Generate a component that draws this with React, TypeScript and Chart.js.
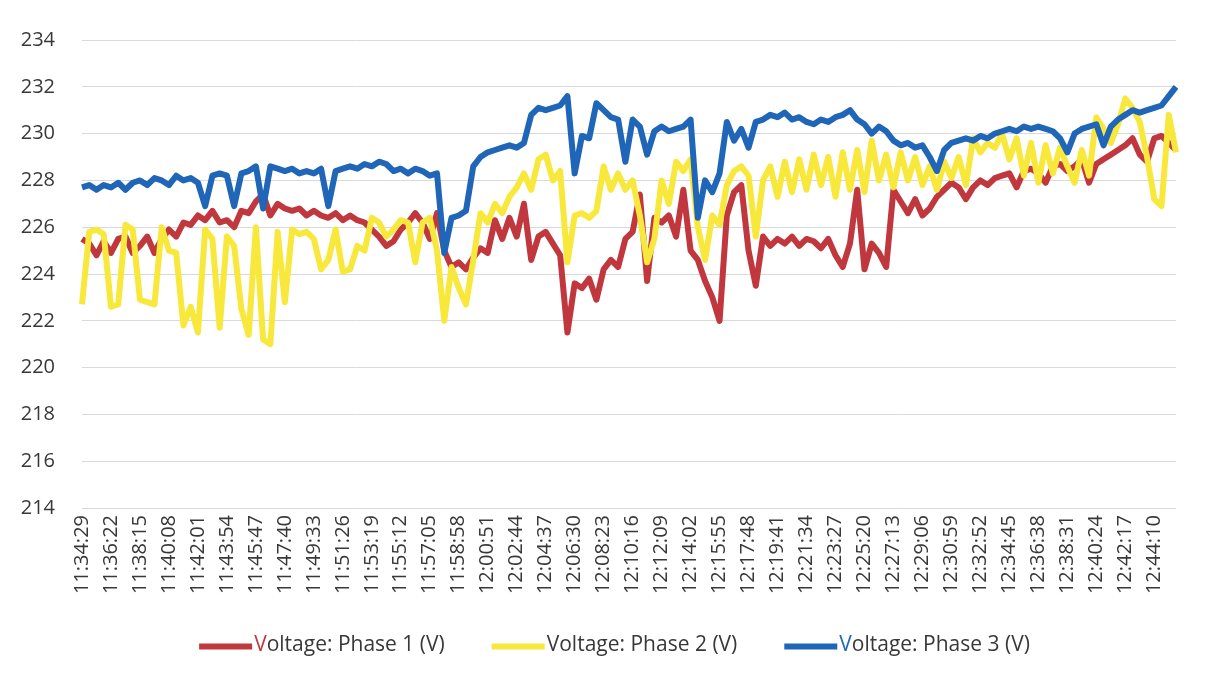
import React, { useEffect, useRef } from 'react';
import { Chart, registerables } from 'chart.js';

Chart.register(...registerables);

// Category tick labels (one every 4 samples)
const TICK_LABELS = [
  '11:34:29', '11:36:22', '11:38:15', '11:40:08', '11:42:01', '11:43:54', '11:45:47', '11:47:40',
  '11:49:33', '11:51:26', '11:53:19', '11:55:12', '11:57:05', '11:58:58', '12:00:51', '12:02:44',
  '12:04:37', '12:06:30', '12:08:23', '12:10:16', '12:12:09', '12:14:02', '12:15:55', '12:17:48',
  '12:19:41', '12:21:34', '12:23:27', '12:25:20', '12:27:13', '12:29:06', '12:30:59', '12:32:52',
  '12:34:45', '12:36:38', '12:38:31', '12:40:24', '12:42:17', '12:44:10',
];
const POINTS_PER_TICK = 4;

const SERIES_NAMES = ['Voltage: Phase 1 (V)', 'Voltage: Phase 2 (V)', 'Voltage: Phase 3 (V)'];
const SERIES_COLORS = ['#c0383d', '#f8e83c', '#1f66b8'];

const PHASE1 = [
  225.5, 225.3, 224.8, 225.4, 224.9, 225.5, 225.6, 224.9,
  225.2, 225.6, 224.9, 225.5, 225.9, 225.6, 226.2, 226.1,
  226.5, 226.3, 226.7, 226.2, 226.3, 226.0, 226.7, 226.6,
  227.1, 227.4, 226.5, 227.0, 226.8, 226.7, 226.8, 226.5,
  226.7, 226.5, 226.4, 226.6, 226.3, 226.5, 226.3, 226.2,
  225.9, 225.6, 225.2, 225.4, 225.9, 226.2, 226.6, 226.2,
  225.5, 226.6, 225.0, 224.3, 224.5, 224.2, 224.7, 225.1,
  224.9, 226.3, 225.5, 226.4, 225.6, 227.0, 224.6, 225.6,
  225.8, 225.3, 224.8, 221.5, 223.6, 223.4, 223.8, 222.9,
  224.2, 224.6, 224.3, 225.5, 225.8, 227.4, 223.7, 226.4,
  226.2, 226.5, 225.6, 227.6, 225.0, 224.6, 223.7, 223.0,
  222.0, 226.5, 227.5, 227.8, 225.0, 223.5, 225.6, 225.2,
  225.5, 225.3, 225.6, 225.2, 225.5, 225.4, 225.1, 225.5,
  224.8, 224.3, 225.3, 227.6, 224.2, 225.3, 224.9, 224.3,
  227.6, 227.1, 226.6, 227.2, 226.5, 226.8, 227.3, 227.6,
  227.9, 227.7, 227.2, 227.7, 228.0, 227.8, 228.1, 228.2,
  228.3, 227.7, 228.4, 228.5, 228.3, 227.9, 228.6, 228.7,
  228.4, 228.6, 228.9, 227.9, 228.7, 228.9, 229.1, 229.3,
  229.5, 229.8, 229.1, 228.8, 229.8, 229.9, 229.6, 229.3,
];

const PHASE2 = [
  222.7, 225.8, 225.9, 225.7, 222.6, 222.7, 226.1, 225.9,
  222.9, 222.8, 222.7, 226.0, 225.0, 224.9, 221.8, 222.6,
  221.5, 225.9, 225.5, 221.7, 225.6, 225.2, 222.5, 221.4,
  226.0, 221.2, 221.0, 225.8, 222.8, 225.9, 225.7, 225.8,
  225.5, 224.2, 224.6, 225.9, 224.1, 224.2, 225.2, 225.0,
  226.4, 226.2, 225.6, 225.9, 226.3, 226.2, 224.5, 226.2,
  226.4, 225.0, 222.0, 224.3, 223.4, 222.7, 224.6, 226.6,
  226.2, 227.0, 226.6, 227.3, 227.7, 228.3, 227.6, 228.9,
  229.1, 228.0, 228.4, 224.5, 226.5, 226.6, 226.4, 226.7,
  228.6, 227.6, 228.3, 227.6, 228.0, 226.5, 224.5, 225.5,
  228.0, 227.0, 228.8, 228.4, 228.9, 226.0, 224.6, 226.5,
  226.1, 227.8, 228.4, 228.6, 228.2, 225.6, 228.0, 228.6,
  227.3, 228.8, 227.5, 228.9, 227.6, 229.1, 227.8, 229.0,
  227.3, 229.2, 227.6, 229.3, 227.5, 229.7, 228.0, 229.1,
  227.7, 229.2, 228.0, 229.0, 227.8, 228.6, 227.6, 228.8,
  228.1, 229.0, 227.8, 229.8, 229.2, 229.6, 229.4, 230.0,
  228.9, 229.8, 228.2, 229.6, 227.9, 229.5, 228.3, 229.4,
  228.6, 227.9, 229.3, 228.2, 230.7, 230.2, 229.6, 230.4,
  231.5, 231.1, 230.5, 229.0, 227.2, 226.9, 230.8, 229.2,
];

const PHASE3 = [
  227.7, 227.8, 227.6, 227.8, 227.7, 227.9, 227.6, 227.9,
  228.0, 227.8, 228.1, 228.0, 227.8, 228.2, 228.0, 228.1,
  227.9, 226.9, 228.2, 228.3, 228.2, 226.9, 228.3, 228.4,
  228.6, 226.8, 228.6, 228.5, 228.4, 228.5, 228.3, 228.4,
  228.3, 228.5, 226.9, 228.4, 228.5, 228.6, 228.5, 228.7,
  228.6, 228.8, 228.7, 228.4, 228.5, 228.3, 228.5, 228.4,
  228.2, 228.3, 224.9, 226.4, 226.5, 226.7, 228.6, 229.0,
  229.2, 229.3, 229.4, 229.5, 229.4, 229.6, 230.8, 231.1,
  231.0, 231.1, 231.2, 231.6, 228.3, 229.9, 229.8, 231.3,
  231.0, 230.7, 230.6, 228.8, 230.6, 230.3, 229.1, 230.1,
  230.3, 230.1, 230.2, 230.3, 230.6, 226.4, 228.0, 227.5,
  228.3, 230.5, 229.7, 230.2, 229.4, 230.5, 230.6, 230.8,
  230.7, 230.9, 230.6, 230.7, 230.5, 230.4, 230.6, 230.5,
  230.7, 230.8, 231.0, 230.6, 230.4, 230.0, 230.3, 230.1,
  229.7, 229.5, 229.6, 229.4, 229.5, 229.0, 228.4, 229.3,
  229.6, 229.7, 229.8, 229.7, 229.9, 229.8, 230.0, 230.1,
  230.2, 230.1, 230.3, 230.2, 230.3, 230.2, 230.1, 229.8,
  229.2, 230.0, 230.2, 230.3, 230.4, 229.5, 230.3, 230.6,
  230.8, 231.0, 230.9, 231.0, 231.1, 231.2, 231.6, 232.0,
];

const Y_MIN = 214;
const Y_MAX = 234;
const Y_STEP = 2;

const FAMILY = "'Open Sans', 'Liberation Sans', sans-serif";
const TEXT_COLOR = '#383838';

// Legend drawn below the axis labels: colored line followed by its label
const bottomLegend = {
  id: 'bottomLegend',
  afterDraw(chart: any) {
    const ctx = chart.ctx as CanvasRenderingContext2D;
    const lineLen = 53;
    const textGap = 2;
    const itemGap = 47;
    const cy = 645;
    ctx.save();
    ctx.font = `21px ${FAMILY}`;
    ctx.textBaseline = 'middle';
    ctx.textAlign = 'left';
    const widths = SERIES_NAMES.map((n) => lineLen + textGap + ctx.measureText(n).width);
    const total = widths.reduce((a, b) => a + b, 0) + itemGap * (widths.length - 1);
    let x = chart.width / 2 + 11 - total / 2;
    SERIES_NAMES.forEach((name, k) => {
      ctx.strokeStyle = SERIES_COLORS[k];
      ctx.lineWidth = 6;
      ctx.lineCap = 'butt';
      ctx.beginPath();
      ctx.moveTo(x, cy + 1.5);
      ctx.lineTo(x + lineLen, cy + 1.5);
      ctx.stroke();
      const tx = x + lineLen + textGap;
      const first = name.charAt(0);
      const rest = name.slice(1);
      ctx.fillStyle = k === 1 ? TEXT_COLOR : SERIES_COLORS[k];
      ctx.fillText(first, tx, cy);
      const fw = ctx.measureText(first).width;
      ctx.fillStyle = TEXT_COLOR;
      ctx.fillText(rest, tx + fw, cy);
      x += widths[k] + itemGap;
    });
    ctx.restore();
  },
};

export default function App() {
  const ref = useRef<HTMLCanvasElement>(null);

  useEffect(() => {
    document.body.style.margin = '0';
    document.body.style.background = '#ffffff';
    const labels = PHASE1.map((_, i) =>
      i % POINTS_PER_TICK === 0 ? TICK_LABELS[i / POINTS_PER_TICK] ?? '' : ''
    );
    const series = [PHASE1, PHASE2, PHASE3];
    const chart = new Chart(ref.current as HTMLCanvasElement, {
      type: 'line',
      data: {
        labels,
        datasets: series.map((data, k) => ({
          label: SERIES_NAMES[k],
          data,
          borderColor: SERIES_COLORS[k],
          backgroundColor: SERIES_COLORS[k],
          order: 3 - k,
        })),
      },
      options: {
        animation: false,
        responsive: false,
        elements: {
          point: { radius: 0, hoverRadius: 0 },
          line: { borderWidth: 6, tension: 0, borderJoinStyle: 'round', borderCapStyle: 'butt' },
        },
        layout: { padding: { top: 40, right: 22, bottom: 0, left: 0 } },
        plugins: {
          tooltip: { enabled: false },
          legend: { display: false },
        },
        scales: {
          x: {
            type: 'category',
            offset: false,
            grid: { display: false, drawTicks: false },
            border: { display: false },
            ticks: {
              autoSkip: false,
              minRotation: 90,
              maxRotation: 90,
              padding: 7,
              color: TEXT_COLOR,
              font: { family: FAMILY, size: 20 },
            },
            afterFit: (s: any) => {
              s.height = 173;
            },
          },
          y: {
            min: Y_MIN,
            max: Y_MAX,
            ticks: { stepSize: Y_STEP, padding: 27, color: TEXT_COLOR, font: { family: FAMILY, size: 20 } },
            grid: { color: '#d9d9d9', lineWidth: 1, drawTicks: false },
            border: { display: false },
            afterFit: (s: any) => {
              s.width = 82;
            },
          },
        },
      },
      plugins: [bottomLegend],
    });
    return () => chart.destroy();
  }, []);

  return <canvas ref={ref} width={1207} height={681} style={{ display: 'block' }} />;
}
